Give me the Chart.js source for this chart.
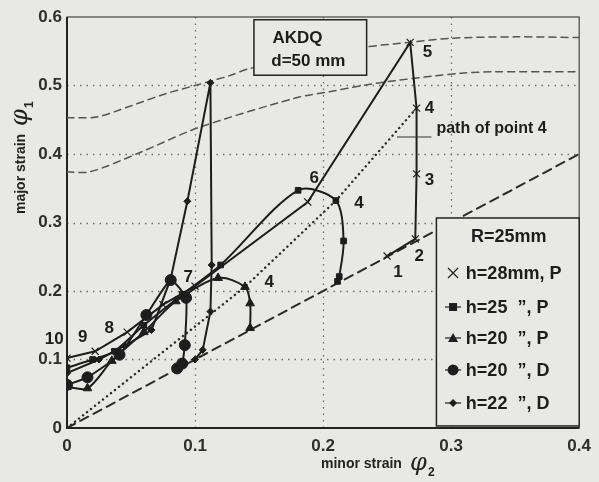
<!DOCTYPE html>
<html>
<head>
<meta charset="utf-8">
<script src="https://cdn.jsdelivr.net/npm/chart.js@4.4.1/dist/chart.umd.min.js"></script>
<style>
html, body { margin: 0; padding: 0; background: #e8e8e6; }
#wrap { width: 599px; height: 482px; }
</style>
</head>
<body>
<div id="wrap"><canvas id="chart" width="599" height="482"></canvas></div>
<script>
// Strain paths, AKDQ d=50 mm, R=25mm - minor strain phi2 vs major strain phi1

// Axis ticks
const xTicks = [0, 0.1, 0.2, 0.3, 0.4];
const yTicks = [0, 0.1, 0.2, 0.3, 0.4, 0.5, 0.6];

// h=28mm, P (x markers), point 10 -> point 1
const h28P_x = [0, 0.022, 0.047, 0.075, 0.1, 0.188, 0.268, 0.273, 0.273, 0.272, 0.25];
const h28P_y = [0.102, 0.112, 0.14, 0.18, 0.207, 0.33, 0.563, 0.467, 0.371, 0.276, 0.251];

// h=25, P (squares)
const h25P_x = [0, 0.02, 0.037, 0.06, 0.09, 0.12, 0.1805, 0.21, 0.216, 0.2126, 0.2113];
const h25P_y = [0.088, 0.1, 0.112, 0.15, 0.195, 0.238, 0.347, 0.332, 0.273, 0.221, 0.214];

// h=20, P (triangles)
const h20P_x = [0, 0.016, 0.035, 0.06, 0.085, 0.118, 0.139, 0.143, 0.143];
const h20P_y = [0.06, 0.058, 0.098, 0.14, 0.185, 0.219, 0.206, 0.182, 0.146];

// h=20, D (circles)
const h20D_x = [0, 0.016, 0.041, 0.062, 0.081, 0.093, 0.092, 0.09, 0.086];
const h20D_y = [0.063, 0.074, 0.107, 0.165, 0.216, 0.19, 0.121, 0.094, 0.087];

// h=22, D (small diamonds)
const h22D_x = [0, 0.025, 0.045, 0.066, 0.081, 0.094, 0.112, 0.113, 0.112, 0.106, 0.1];
const h22D_y = [0.08, 0.1, 0.12, 0.143, 0.218, 0.331, 0.504, 0.238, 0.17, 0.114, 0.1];

// reference lines
const equalX = [0, 0.4];
const equalY = [0, 0.4];
const path4_x = [0, 0.139, 0.21, 0.273];
const path4_y = [0, 0.206, 0.332, 0.467];
const flcUpper_x = [0, 0.023, 0.048, 0.077, 0.102, 0.128, 0.143, 0.233, 0.268, 0.3, 0.35, 0.4];
const flcUpper_y = [0.453, 0.454, 0.469, 0.488, 0.501, 0.515, 0.525, 0.556, 0.563, 0.569, 0.571, 0.57];
const flcLower_x = [0, 0.018, 0.058, 0.102, 0.179, 0.205, 0.231, 0.256, 0.287, 0.308, 0.333, 0.4];
const flcLower_y = [0.374, 0.374, 0.403, 0.438, 0.482, 0.491, 0.5, 0.507, 0.514, 0.518, 0.52, 0.52];

// point numbers written next to the curves
const pointLabels = ['10', '9', '8', '7', '6', '4', '4', '5', '4', '3', '2', '1'];
const pointLabelX = [-0.01, 0.0123, 0.033, 0.0946, 0.193, 0.228, 0.158, 0.2815, 0.283, 0.283, 0.275, 0.2585];
const pointLabelY = [0.13, 0.133, 0.146, 0.22, 0.365, 0.328, 0.212, 0.549, 0.467, 0.362, 0.25, 0.228];

// legend entries
const seriesNames = ['h=28mm, P', 'h=25  \u201d, P', 'h=20  \u201d, P', 'h=20  \u201d, D', 'h=22  \u201d, D'];
const seriesMarkers = ['crossRot', 'rect', 'triangle', 'circle', 'rectRot'];

const ink = '#1d1d1d';
const bg = '#e8e8e6';
const fontFamily = '"Liberation Sans", Arial, sans-serif';

function zip(xs, ys) {
    return xs.map((x, i) => ({ x: x, y: ys[i] }));
}

function curve(label, xs, ys, marker, radius, tension) {
    return {
        label: label,
        data: zip(xs, ys),
        showLine: true,
        borderColor: ink,
        backgroundColor: ink,
        borderWidth: 2,
        pointStyle: marker,
        pointRadius: radius,
        pointBorderColor: ink,
        pointBackgroundColor: ink,
        pointBorderWidth: marker === 'crossRot' ? 1.2 : 1,
        tension: tension
    };
}

function refLine(xs, ys, dash, width, color, tension) {
    return {
        data: zip(xs, ys),
        showLine: true,
        borderColor: color,
        borderWidth: width,
        borderDash: dash,
        borderCapStyle: 'round',
        pointRadius: 0,
        tension: tension
    };
}

// draw a legend marker by hand
function drawMarker(ctx, style, x, y) {
    ctx.save();
    ctx.fillStyle = ink;
    ctx.strokeStyle = ink;
    ctx.lineWidth = 1.2;
    ctx.beginPath();
    if (style === 'crossRot') {
        ctx.moveTo(x - 5, y - 5); ctx.lineTo(x + 5, y + 5);
        ctx.moveTo(x - 5, y + 5); ctx.lineTo(x + 5, y - 5);
        ctx.stroke();
    } else {
        // short line either side of the marker
        ctx.moveTo(x - 8, y); ctx.lineTo(x + 8, y);
        ctx.stroke();
        ctx.beginPath();
        if (style === 'rect') {
            ctx.rect(x - 4, y - 4, 8, 8);
        } else if (style === 'triangle') {
            ctx.moveTo(x, y - 5); ctx.lineTo(x + 5, y + 4); ctx.lineTo(x - 5, y + 4); ctx.closePath();
        } else if (style === 'circle') {
            ctx.arc(x, y, 5.5, 0, Math.PI * 2);
        } else {
            ctx.moveTo(x, y - 4); ctx.lineTo(x + 4, y); ctx.lineTo(x, y + 4); ctx.lineTo(x - 4, y); ctx.closePath();
        }
        ctx.fill();
    }
    ctx.restore();
}

const decorations = {
    id: 'decorations',
    beforeDraw(chart) {
        const ctx = chart.ctx;
        ctx.save();
        ctx.fillStyle = bg;
        ctx.fillRect(0, 0, chart.width, chart.height);
        ctx.restore();
    },
    beforeDatasetsDraw(chart) {
        const { ctx, chartArea: a, scales: { x, y } } = chart;
        ctx.save();
        // dotted grid
        ctx.strokeStyle = '#6e6e6e';
        ctx.lineWidth = 1.3;
        ctx.setLineDash([1.5, 5]);
        xTicks.slice(1, -1).forEach(v => {
            const px = Math.round(x.getPixelForValue(v)) + 0.5;
            ctx.beginPath(); ctx.moveTo(px, a.top); ctx.lineTo(px, a.bottom); ctx.stroke();
        });
        yTicks.slice(1, -1).forEach(v => {
            const py = Math.round(y.getPixelForValue(v)) + 0.5;
            ctx.beginPath(); ctx.moveTo(a.left, py); ctx.lineTo(a.right, py); ctx.stroke();
        });
        ctx.setLineDash([]);
        // frame
        ctx.strokeStyle = '#444';
        ctx.lineWidth = 1.2;
        ctx.strokeRect(a.left, a.top, a.right - a.left, a.bottom - a.top);
        ctx.strokeStyle = '#222';
        ctx.lineWidth = 2;
        ctx.beginPath();
        ctx.moveTo(a.left, a.top); ctx.lineTo(a.left, a.bottom); ctx.lineTo(a.right, a.bottom);
        ctx.stroke();
        ctx.restore();
    },
    afterDatasetsDraw(chart) {
        const { ctx, scales: { x, y } } = chart;
        const px = v => x.getPixelForValue(v);
        const py = v => y.getPixelForValue(v);
        ctx.save();

        // AKDQ box
        const bx1 = px(0.146), bx2 = px(0.234), by1 = py(0.596), by2 = py(0.515);
        ctx.fillStyle = bg;
        ctx.fillRect(bx1, by1, bx2 - bx1, by2 - by1);
        ctx.strokeStyle = '#222';
        ctx.lineWidth = 1.5;
        ctx.strokeRect(bx1, by1, bx2 - bx1, by2 - by1);
        ctx.fillStyle = ink;
        ctx.font = 'bold 17px ' + fontFamily;
        ctx.textAlign = 'center';
        ctx.textBaseline = 'middle';
        ctx.fillText('AKDQ', px(0.18), py(0.569));
        ctx.fillText('d=50 mm', px(0.1885), py(0.536));

        // legend box
        const lx1 = px(0.2885), lx2 = px(0.4), ly1 = py(0.3066), ly2 = py(0.003);
        ctx.fillStyle = bg;
        ctx.fillRect(lx1, ly1, lx2 - lx1, ly2 - ly1);
        ctx.strokeStyle = '#222';
        ctx.strokeRect(lx1, ly1, lx2 - lx1, ly2 - ly1);
        ctx.fillStyle = ink;
        ctx.font = 'bold 18px ' + fontFamily;
        ctx.textAlign = 'center';
        ctx.fillText('R=25mm', px(0.345), py(0.279));
        const rowY = [0.2263, 0.1766, 0.1314, 0.0847, 0.0365];
        ctx.textAlign = 'left';
        seriesNames.forEach((name, i) => {
            drawMarker(ctx, seriesMarkers[i], px(0.3015), py(rowY[i]));
            ctx.fillStyle = ink;
            ctx.fillText(name, px(0.3115), py(rowY[i]) + 1);
        });

        // point numbers
        ctx.font = 'bold 17px ' + fontFamily;
        ctx.textAlign = 'center';
        pointLabels.forEach((t, i) => {
            ctx.fillText(t, px(pointLabelX[i]), py(pointLabelY[i]));
        });

        // path of point 4 note with leader line
        ctx.strokeStyle = '#333';
        ctx.lineWidth = 1.2;
        ctx.beginPath();
        ctx.moveTo(px(0.2577), py(0.4248)); ctx.lineTo(px(0.2846), py(0.4248));
        ctx.stroke();
        ctx.textAlign = 'left';
        ctx.font = 'bold 16px ' + fontFamily;
        ctx.fillText('path of point 4', px(0.2885), py(0.4365));
        ctx.restore();
    },
    afterDraw(chart) {
        const ctx = chart.ctx;
        ctx.save();
        ctx.fillStyle = '#222';
        ctx.textBaseline = 'alphabetic';
        ctx.textAlign = 'left';
        // x axis title
        ctx.font = 'bold 14px ' + fontFamily;
        ctx.fillText('minor strain', 321, 468);
        ctx.font = 'italic 24px "DejaVu Serif", serif';
        ctx.fillText('\u03c6', 410, 470);
        ctx.font = 'bold 12px ' + fontFamily;
        ctx.fillText('2', 428, 476);
        // y axis title
        ctx.translate(25, 214);
        ctx.rotate(-Math.PI / 2);
        ctx.font = 'bold 14px ' + fontFamily;
        ctx.fillText('major strain', 0, 0);
        ctx.font = 'italic 24px "DejaVu Serif", serif';
        ctx.fillText('\u03c6', 88, 2);
        ctx.font = 'bold 12px ' + fontFamily;
        ctx.fillText('1', 106, 8);
        ctx.restore();
    }
};

const tickFont = { family: fontFamily, size: 17, weight: 'bold' };
const fmt = v => (v === 0 ? '0' : v.toFixed(1));

new Chart(document.getElementById('chart'), {
    type: 'scatter',
    data: {
        datasets: [
            curve(seriesNames[0], h28P_x, h28P_y, 'crossRot', 5, 0),
            curve(seriesNames[1], h25P_x, h25P_y, 'rect', 4, 0.3),
            curve(seriesNames[2], h20P_x, h20P_y, 'triangle', 5, 0.3),
            curve(seriesNames[3], h20D_x, h20D_y, 'circle', 5.5, 0.15),
            curve(seriesNames[4], h22D_x, h22D_y, 'rectRot', 3.5, 0),
            refLine(equalX, equalY, [9, 6], 2, '#2a2a2a', 0),
            refLine(path4_x, path4_y, [0.1, 5], 2.4, '#2a2a2a', 0),
            refLine(flcUpper_x, flcUpper_y, [7, 5], 1.5, '#555', 0.3),
            refLine(flcLower_x, flcLower_y, [7, 5], 1.5, '#555', 0.3)
        ]
    },
    options: {
        responsive: false,
        animation: false,
        layout: { padding: { left: 0, right: 12, top: 17, bottom: 0 } },
        plugins: {
            legend: { display: false },
            tooltip: { enabled: false }
        },
        scales: {
            x: {
                type: 'linear',
                min: 0,
                max: 0.4,
                afterFit: s => { s.height = 54; },
                afterBuildTicks: s => { s.ticks = xTicks.map(v => ({ value: v })); },
                grid: { display: false, drawTicks: false },
                border: { display: false },
                ticks: { padding: 8, color: '#2e2e2e', font: tickFont, callback: fmt, maxRotation: 0 }
            },
            y: {
                type: 'linear',
                min: 0,
                max: 0.6,
                afterFit: s => { s.width = 67; },
                afterBuildTicks: s => { s.ticks = yTicks.map(v => ({ value: v })); },
                grid: { display: false, drawTicks: false },
                border: { display: false },
                ticks: { padding: 5, color: '#2e2e2e', font: tickFont, callback: fmt }
            }
        }
    },
    plugins: [decorations]
});
</script>
</body>
</html>
